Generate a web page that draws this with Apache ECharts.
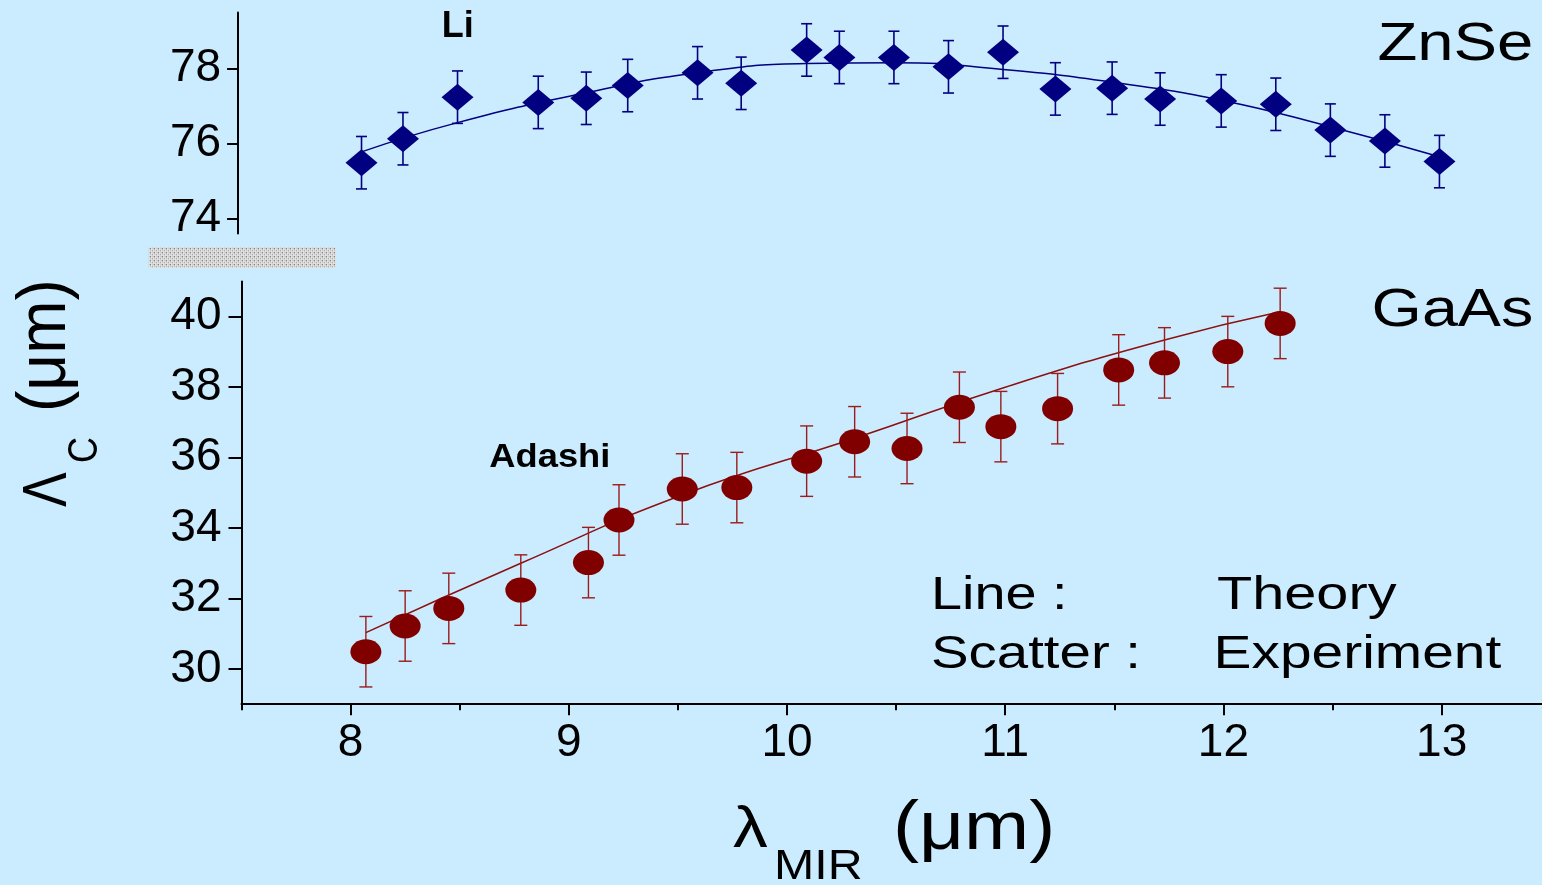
<!DOCTYPE html>
<html>
<head>
<meta charset="utf-8">
<script src="https://cdn.jsdelivr.net/npm/echarts@6.0.0/dist/echarts.min.js"></script>
<style>
  html, body { margin: 0; padding: 0; background: #cbebfe; }
  #chart { width: 1542px; height: 885px; }
</style>
</head>
<body>
<div id="chart"></div>
<script>
// ZnSe cut-off wavelength (Li): measured points and error
const znseX = [8.05, 8.24, 8.49, 8.86, 9.08, 9.27, 9.59, 9.79, 10.09, 10.24, 10.49, 10.74, 10.99, 11.23, 11.49, 11.71, 11.99, 12.24, 12.49, 12.74, 12.99];
const znseY = [75.49, 76.13, 77.24, 77.10, 77.21, 77.55, 77.89, 77.61, 78.50, 78.30, 78.30, 78.05, 78.44, 77.46, 77.48, 77.19, 77.14, 77.05, 76.36, 76.07, 75.52];
const znseErr = 0.7;
// ZnSe theory curve
const znseTheoryX = [8.05, 8.49, 9.08, 9.59, 10.09, 10.49, 10.99, 11.49, 11.99, 12.49, 12.99];
const znseTheoryY = [75.78, 76.56, 77.36, 77.89, 78.14, 78.16, 77.98, 77.64, 77.16, 76.45, 75.65];

// GaAs cut-off wavelength (Adashi): measured points and error
const gaasX = [8.07, 8.25, 8.45, 8.78, 9.09, 9.23, 9.52, 9.77, 10.09, 10.31, 10.55, 10.79, 10.98, 11.24, 11.52, 11.73, 12.02, 12.26];
const gaasY = [30.49, 31.22, 31.72, 32.24, 33.02, 34.23, 35.11, 35.15, 35.90, 36.45, 36.26, 37.43, 36.88, 37.39, 38.49, 38.69, 39.01, 39.81];
const gaasErr = 1.0;
// GaAs theory curve
const gaasTheoryX = [8.07, 8.78, 9.52, 10.31, 11.0, 11.73, 12.26];
const gaasTheoryY = [31.03, 33.0, 34.94, 36.55, 38.0, 39.34, 40.14];

// Axis ticks
const xTicks = [8, 9, 10, 11, 12, 13];
const xMinorTicks = [7.5, 8.5, 9.5, 10.5, 11.5, 12.5];
const znseTicks = [74, 76, 78];
const gaasTicks = [30, 32, 34, 36, 38, 40];

const FONT = '"Liberation Sans", Arial, Helvetica, sans-serif';
const NAVY = '#000080';
const MAROON = '#800000';
const X_MIN = 7.5, X_MAX = 13.46;

const zip = (xs, ys) => xs.map((x, i) => [x, ys[i]]);
const withErr = (xs, ys, e) => xs.map((x, i) => [x, ys[i], e]);

function errorBars(color, capHalf, lw) {
  return function (params, api) {
    const x = api.value(0), y = api.value(1), e = api.value(2);
    const t = api.coord([x, y + e]);
    const b = api.coord([x, y - e]);
    const st = { stroke: color, lineWidth: lw };
    return {
      type: 'group',
      children: [
        { type: 'line', shape: { x1: t[0], y1: t[1], x2: b[0], y2: b[1] }, style: st },
        { type: 'line', shape: { x1: t[0] - capHalf, y1: t[1], x2: t[0] + capHalf, y2: t[1] }, style: st },
        { type: 'line', shape: { x1: b[0] - capHalf, y1: b[1], x2: b[0] + capHalf, y2: b[1] }, style: st }
      ]
    };
  };
}

// Stippled tile for the axis-break bar
function stipple() {
  const c = document.createElement('canvas');
  c.width = 4; c.height = 4;
  const g = c.getContext('2d');
  g.fillStyle = '#ededed'; g.fillRect(0, 0, 4, 4);
  g.fillStyle = '#1e1e1e'; g.fillRect(1, 1, 1, 1);
  g.fillStyle = '#6e6e6e'; g.fillRect(3, 3, 1, 1);
  g.fillStyle = '#a8a8a8'; g.fillRect(3, 1, 1, 1); g.fillRect(1, 3, 1, 1);
  return c;
}

function txt(str, x, y, size, extra) {
  return Object.assign({
    type: 'text', x: x, y: y, z: 50,
    style: { text: str, fontFamily: FONT, fontSize: size, fill: '#000', align: 'left', verticalAlign: 'middle' }
  }, extra || {});
}
function boldTxt(str, x, y, size, extra) {
  const t = txt(str, x, y, size, extra);
  t.style.fontWeight = 'bold';
  return t;
}

const axisLineStyle = { color: '#000', width: 2 };
const labelStyle = { color: '#000', fontFamily: FONT, fontSize: 46 };

const chart = echarts.init(document.getElementById('chart'), null, { renderer: 'canvas' });

const option = {
  backgroundColor: '#cbebfe',
  animation: false,
  grid: [
    { left: 241.5, top: 12.5, right: 0, height: 221 },
    { left: 241.5, top: 281.5, right: 0, height: 422.7 }
  ],
  xAxis: [
    { type: 'value', gridIndex: 0, min: X_MIN, max: X_MAX, show: false },
    {
      type: 'value', gridIndex: 1, min: X_MIN, max: X_MAX, position: 'bottom',
      axisLine: { show: true, onZero: false, lineStyle: axisLineStyle },
      axisTick: { show: true, length: 11, lineStyle: axisLineStyle, customValues: xTicks },
      axisLabel: Object.assign({ margin: 16, customValues: xTicks }, labelStyle),
      splitLine: { show: false }
    },
    {
      type: 'value', gridIndex: 1, min: X_MIN, max: X_MAX, position: 'bottom',
      axisLine: { show: false },
      axisTick: { show: true, length: 6, lineStyle: axisLineStyle, customValues: xMinorTicks },
      axisLabel: { show: false },
      splitLine: { show: false }
    }
  ],
  yAxis: [
    {
      type: 'value', gridIndex: 0, min: 73.6, max: 79.5, offset: 3.4,
      axisLine: { show: true, onZero: false, lineStyle: axisLineStyle },
      axisTick: { show: true, length: 11, lineStyle: axisLineStyle, customValues: znseTicks },
      axisLabel: Object.assign({ margin: 17, customValues: znseTicks }, labelStyle),
      splitLine: { show: false }
    },
    {
      type: 'value', gridIndex: 1, min: 29, max: 41,
      axisLine: { show: true, onZero: false, lineStyle: axisLineStyle },
      axisTick: { show: true, length: 13, lineStyle: axisLineStyle, customValues: gaasTicks },
      axisLabel: Object.assign({ margin: 20, customValues: gaasTicks }, labelStyle),
      splitLine: { show: false }
    }
  ],
  series: [
    {
      name: 'ZnSe theory', type: 'line', xAxisIndex: 0, yAxisIndex: 0, z: 2,
      data: zip(znseTheoryX, znseTheoryY), smooth: true, showSymbol: false,
      lineStyle: { color: NAVY, width: 1.5 }
    },
    {
      name: 'ZnSe error', type: 'custom', xAxisIndex: 0, yAxisIndex: 0, z: 3,
      data: withErr(znseX, znseY, znseErr), encode: { x: 0, y: 1 },
      renderItem: errorBars(NAVY, 5.5, 1.6)
    },
    {
      name: 'ZnSe', type: 'scatter', xAxisIndex: 0, yAxisIndex: 0, z: 4,
      data: zip(znseX, znseY), symbol: 'diamond', symbolSize: [32, 27],
      itemStyle: { color: NAVY, opacity: 1 }
    },
    {
      name: 'GaAs theory', type: 'line', xAxisIndex: 1, yAxisIndex: 1, z: 2,
      data: zip(gaasTheoryX, gaasTheoryY), smooth: true, showSymbol: false,
      lineStyle: { color: '#8b1010', width: 1.5 }
    },
    {
      name: 'GaAs error', type: 'custom', xAxisIndex: 1, yAxisIndex: 1, z: 3,
      data: withErr(gaasX, gaasY, gaasErr), encode: { x: 0, y: 1 },
      renderItem: errorBars('#9a1c1c', 6.5, 1.4)
    },
    {
      name: 'GaAs', type: 'scatter', xAxisIndex: 1, yAxisIndex: 1, z: 4,
      data: zip(gaasX, gaasY), symbol: 'circle', symbolSize: [31, 25],
      itemStyle: { color: MAROON, opacity: 1 }
    }
  ],
  graphic: [
    // axis break bar
    { type: 'rect', x: 148.7, y: 247.3, z: 40, shape: { width: 187, height: 20.7 },
      style: { fill: { image: stipple(), repeat: 'repeat' } } },
    // panel annotations
    boldTxt('Li', 441.7, 27, 36),
    boldTxt('Adashi', 489.3, 458.3, 33, { scaleX: 1.1 }),
    txt('ZnSe', 1377.5, 45, 53, { scaleX: 1.23 }),
    txt('GaAs', 1371.6, 311, 53, { scaleX: 1.22 }),
    txt('Line :', 931, 596, 46.5, { scaleX: 1.2 }),
    txt('Theory', 1217, 596, 46.5, { scaleX: 1.24 }),
    txt('Scatter :', 931, 655, 47, { scaleX: 1.2 }),
    txt('Experiment', 1213.6, 655, 47, { scaleX: 1.21 }),
    // x-axis title
    txt('λ', 733, 831, 58, { scaleX: 1.2 }),
    txt('MIR', 774, 867, 42, { scaleX: 1.15 }),
    txt('(μm)', 893, 830.6, 68, { scaleX: 1.15 }),
    // y-axis title (reads bottom to top)
    txt('Λ', 48.4, 507, 52, { rotation: Math.PI / 2, scaleY: 1.2 }),
    txt('C', 85, 463, 36, { rotation: Math.PI / 2, scaleY: 1.2 }),
    txt('(μm)', 46.4, 412, 64, { rotation: Math.PI / 2, scaleY: 1.08 })
  ]
};

chart.setOption(option);
</script>
</body>
</html>
